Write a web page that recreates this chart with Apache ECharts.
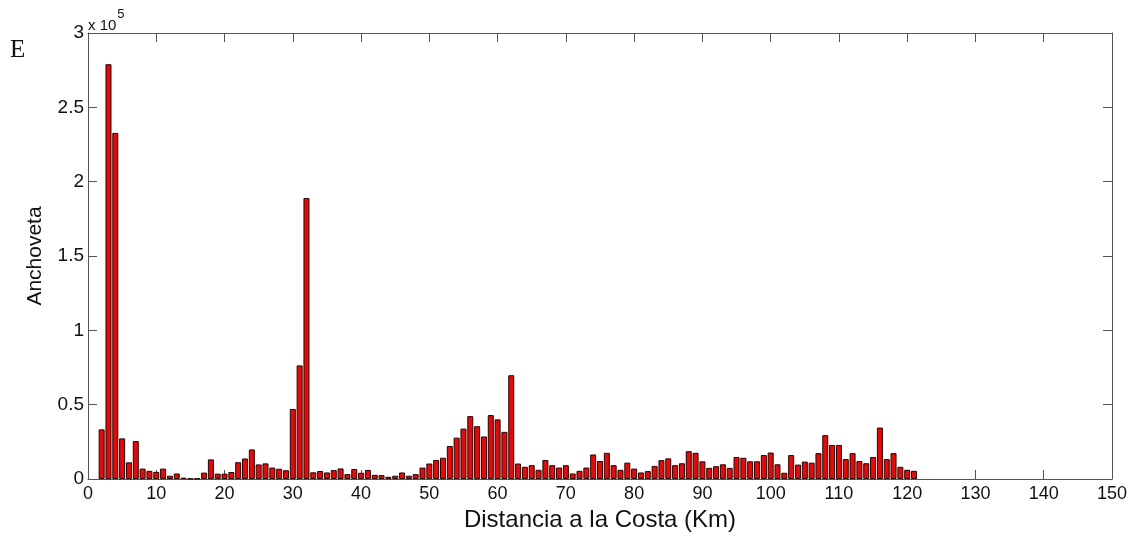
<!DOCTYPE html>
<html lang="es">

<head>
    <meta charset="UTF-8">
    <title>Anchoveta</title>
    <style>
        html, body { margin: 0; padding: 0; background: #fff; }
        #root { width: 1139px; height: 537px; }
    </style>
</head>

<body>
    <div id="root"></div>
    <script src="https://cdn.jsdelivr.net/npm/echarts@6/dist/echarts.min.js"></script>
    <script>
        // distancia a la costa (km) y anchoveta por km
        var km = [2, 3, 4, 5, 6, 7, 8, 9, 10, 11, 12, 13, 14, 15, 16, 17, 18, 19, 20, 21,
            22, 23, 24, 25, 26, 27, 28, 29, 30, 31, 32, 33, 34, 35, 36, 37, 38, 39, 40, 41,
            42, 43, 44, 45, 46, 47, 48, 49, 50, 51, 52, 53, 54, 55, 56, 57, 58, 59, 60, 61,
            62, 63, 64, 65, 66, 67, 68, 69, 70, 71, 72, 73, 74, 75, 76, 77, 78, 79, 80, 81,
            82, 83, 84, 85, 86, 87, 88, 89, 90, 91, 92, 93, 94, 95, 96, 97, 98, 99, 100, 101,
            102, 103, 104, 105, 106, 107, 108, 109, 110, 111, 112, 113, 114, 115, 116, 117, 118, 119, 120, 121];
        var anchoveta = [33400, 279000, 232800, 27300, 11200, 25500, 7000, 5500, 4800, 7000,
            2200, 3700, 900, 300, 300, 4300, 13200, 3600, 3600, 4700,
            11300, 13800, 19900, 9800, 10500, 7700, 6900, 5900, 47100, 76400,
            189000, 4500, 5400, 4400, 6000, 7100, 3300, 6700, 4200, 6100,
            2800, 2600, 1500, 2200, 4400, 2200, 3300, 7700, 10400, 12800,
            14300, 22200, 27800, 33900, 42300, 35500, 28600, 43000, 40100, 31700,
            69800, 10400, 8200, 9300, 6200, 12800, 9300, 7700, 9300, 3700,
            5500, 7700, 16500, 12100, 17600, 9300, 6200, 11000, 7000, 4400,
            5300, 8800, 12700, 13900, 9300, 10600, 18700, 17600, 11900, 7500,
            8600, 9900, 7500, 14800, 14300, 11900, 11900, 16100, 17800, 9900,
            4200, 16100, 9700, 11700, 11000, 17400, 29500, 22900, 22900, 13400,
            17400, 12100, 10600, 14800, 34600, 13400, 17400, 8200, 6200, 5500];
        var xRange = [0, 150, 10];
        var yRange = [0, 300000, 50000];

        var axisColor = "#555";
        var font = "Liberation Sans, Arial, sans-serif";

        var barData = km.map(function (k, i) { return [k, anchoveta[i]]; });

        function xAxisOf(pos, labels) {
            return {
                type: "value",
                position: pos,
                min: xRange[0],
                max: xRange[1],
                interval: xRange[2],
                axisLine: { show: true, onZero: false, lineStyle: { color: axisColor, width: 1 } },
                axisTick: { show: true, inside: true, length: 9, lineStyle: { color: axisColor } },
                axisLabel: {
                    show: labels,
                    color: "#111",
                    fontFamily: font,
                    fontSize: 18,
                    margin: 6,
                    showMinLabel: true,
                    showMaxLabel: true
                },
                splitLine: { show: false }
            };
        }

        function yAxisOf(pos, labels) {
            return {
                type: "value",
                position: pos,
                min: yRange[0],
                max: yRange[1],
                interval: yRange[2],
                axisLine: { show: true, onZero: false, lineStyle: { color: axisColor, width: 1 } },
                axisTick: { show: true, inside: true, length: 9, lineStyle: { color: axisColor } },
                axisLabel: {
                    show: labels,
                    color: "#111",
                    fontFamily: font,
                    fontSize: 19,
                    margin: 4,
                    showMinLabel: true,
                    showMaxLabel: true,
                    formatter: function (v) { return String(v / 1e5); }
                },
                splitLine: { show: false }
            };
        }

        var xBottom = xAxisOf("bottom", true);
        xBottom.name = "Distancia a la Costa (Km)";
        xBottom.nameLocation = "middle";
        xBottom.nameGap = 29;
        xBottom.nameTextStyle = { color: "#111", fontFamily: font, fontSize: 24 };

        var yLeft = yAxisOf("left", true);
        yLeft.name = "Anchoveta";
        yLeft.nameLocation = "middle";
        yLeft.nameGap = 42;
        yLeft.nameTextStyle = { color: "#111", fontFamily: font, fontSize: 21 };

        var option = {
            animation: false,
            backgroundColor: "#fff",
            grid: { left: 88, right: 27, top: 33, bottom: 50, containLabel: false },
            xAxis: [xBottom, xAxisOf("top", false)],
            yAxis: [yLeft, yAxisOf("right", false)],
            graphic: [
                {
                    type: "text",
                    left: 10,
                    top: 38,
                    style: {
                        text: "E",
                        fill: "#111",
                        font: "25px 'Liberation Serif', 'Times New Roman', serif"
                    }
                },
                {
                    type: "text",
                    left: 88,
                    top: 8,
                    style: {
                        text: "{b|x 10}{s|5}",
                        rich: {
                            b: { fontFamily: font, fontSize: 15, fill: "#111", padding: [12, 0, 0, 0] },
                            s: { fontFamily: font, fontSize: 13, fill: "#111", padding: [0, 0, 10, 1] }
                        }
                    }
                }
            ],
            series: [
                {
                    type: "bar",
                    xAxisIndex: 0,
                    yAxisIndex: 0,
                    barWidth: 6,
                    data: barData,
                    itemStyle: {
                        color: "#e00b0b",
                        borderColor: "#2a0303",
                        borderWidth: 1
                    }
                }
            ]
        };

        var instance = echarts.init(document.getElementById("root"));
        instance.setOption(option);
    </script>
</body>

</html>
